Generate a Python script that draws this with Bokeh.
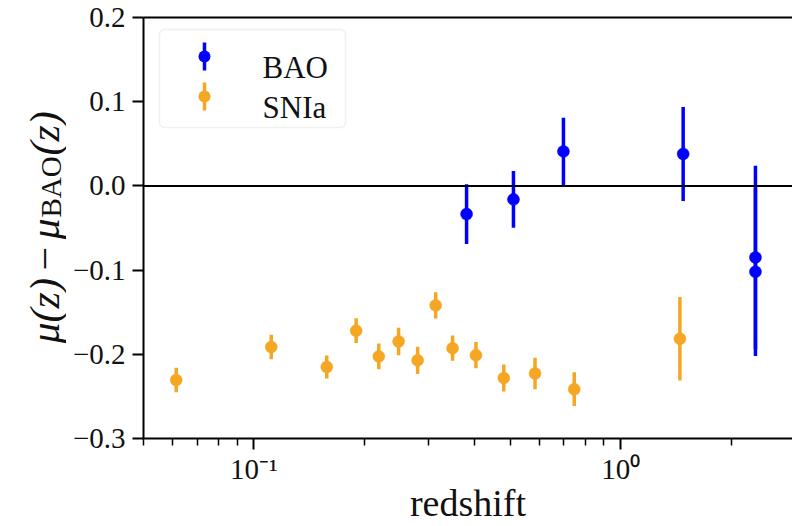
import numpy as np
from bokeh.plotting import figure
from bokeh.layouts import row
from bokeh.models import (ColumnDataSource, FixedTicker, CustomJSTickFormatter, Span, Label,
                          LinearAxis, Range1d, BoxAnnotation)
from bokeh.embed import file_html
from bokeh.resources import INLINE

# ---------------- data ----------------
bao_z = [0.38, 0.51, 0.698, 1.48, 2.33, 2.33]
bao_dmu = [-0.0335, -0.016, 0.041, 0.038, -0.085, -0.102]
bao_err = [0.0355, 0.0336, 0.040, 0.0558, 0.109, 0.100]

sn_z = [0.0614, 0.1115, 0.158, 0.190, 0.219, 0.248, 0.2795, 0.313, 0.348,
        0.403, 0.48, 0.584, 0.747, 1.45]
sn_dmu = [-0.2305, -0.1913, -0.215, -0.1719, -0.2025, -0.1847, -0.2072, -0.1419,
          -0.1928, -0.201, -0.2281, -0.2228, -0.2414, -0.1815]
sn_err = [0.0145, 0.0145, 0.0137, 0.0147, 0.0153, 0.0163, 0.0163, 0.0157, 0.015,
          0.0157, 0.016, 0.0187, 0.020, 0.0495]

x_major = [0.1, 1.0]
x_minor = [0.05, 0.06, 0.07, 0.08, 0.09, 0.2, 0.3, 0.4, 0.5, 0.6, 0.7, 0.8, 0.9, 2.0, 3.0]
y_ticks = [-0.3, -0.2, -0.1, 0.0, 0.1, 0.2]

BAO_COLOR = "#0000ff"
SN_COLOR = "#f5a623"
FONT = "Liberation Serif"
TXT = "#111111"

LAB_W = 66
H = 526

# ---------------- main figure ----------------
p = figure(width=792 - LAB_W, height=H, x_axis_type="log",
           x_range=Range1d(0.05, 2.94), y_range=Range1d(-0.3, 0.2),
           output_backend="svg", toolbar_location=None,
           min_border_left=143 - LAB_W, min_border_right=0, min_border_top=17,
           min_border_bottom=87)
p.grid.visible = False
p.outline_line_color = None
p.background_fill_color = "white"
p.border_fill_color = "white"

# x axis
xa = p.xaxis[0]
xa.ticker = FixedTicker(ticks=x_major, minor_ticks=x_minor)
xa.formatter = CustomJSTickFormatter(code="""
const e = Math.round(Math.log10(tick));
const sup = {"-": "\u207b", "0": "\u2070", "1": "\u00b9", "2": "\u00b2", "3": "\u00b3"};
return "10" + String(e).split("").map(c => sup[c]).join("");
""")
xa.major_label_text_font = FONT
xa.major_label_text_font_size = "29px"
xa.major_label_text_color = TXT
xa.major_label_standoff = 3
xa.major_tick_out = 11
xa.major_tick_in = 0
xa.minor_tick_out = 7
xa.minor_tick_in = 0
xa.axis_line_width = 2
xa.major_tick_line_width = 2
xa.minor_tick_line_width = 1.5
xa.axis_line_color = "black"
xa.major_tick_line_color = "black"
xa.minor_tick_line_color = "black"
xa.axis_label = "redshift"
xa.axis_label_text_font = FONT
xa.axis_label_text_font_size = "38px"
xa.axis_label_text_font_style = "normal"
xa.axis_label_text_color = TXT
xa.axis_label_standoff = -6

# y axis
ya = p.yaxis[0]
ya.ticker = FixedTicker(ticks=y_ticks, minor_ticks=[])
ya.formatter = CustomJSTickFormatter(code="""
return (tick < -1e-9 ? "\u2212" : "") + Math.abs(tick).toFixed(1);
""")
ya.major_label_text_font = FONT
ya.major_label_text_font_size = "29px"
ya.major_label_text_color = TXT
ya.major_label_standoff = 7
ya.major_tick_out = 11
ya.major_tick_in = 0
ya.minor_tick_out = 0
ya.axis_line_width = 2
ya.major_tick_line_width = 2
ya.axis_line_color = "black"
ya.major_tick_line_color = "black"

# top spine
top = LinearAxis(ticker=FixedTicker(ticks=[]), major_label_text_font_size="0px",
                 major_tick_out=0, major_tick_in=0, minor_tick_out=0, minor_tick_in=0,
                 major_label_standoff=0, axis_line_width=2, axis_line_color="black")
p.add_layout(top, "above")

# zero line
p.add_layout(Span(location=0, dimension="width", line_color="black", line_width=2))

# ---------------- data glyphs ----------------
bao_src = ColumnDataSource(dict(
    z=bao_z, y=bao_dmu,
    lo=[v - e for v, e in zip(bao_dmu, bao_err)],
    hi=[v + e for v, e in zip(bao_dmu, bao_err)]))
sn_src = ColumnDataSource(dict(
    z=sn_z, y=sn_dmu,
    lo=[v - e for v, e in zip(sn_dmu, sn_err)],
    hi=[v + e for v, e in zip(sn_dmu, sn_err)]))

p.segment("z", "lo", "z", "hi", source=bao_src, line_color=BAO_COLOR, line_width=3.5, line_cap="butt")
p.scatter("z", "y", source=bao_src, size=12, fill_color=BAO_COLOR, line_color=BAO_COLOR, line_width=0.5)
p.segment("z", "lo", "z", "hi", source=sn_src, line_color=SN_COLOR, line_width=3.5, line_cap="butt")
p.scatter("z", "y", source=sn_src, size=12, fill_color=SN_COLOR, line_color=SN_COLOR, line_width=0.5)

# ---------------- legend (manual, screen units relative to frame) ----------------
def sbox(l, r, b, t, **kw):
    return BoxAnnotation(left=l, right=r, bottom=b, top=t,
                         left_units="screen", right_units="screen",
                         bottom_units="screen", top_units="screen", **kw)

p.add_layout(sbox(16, 202, 311, 409, fill_color="white", fill_alpha=0.85,
                  line_color="#cccccc", line_width=1.5, border_radius=5))
for yc, col, name, base in [(382, BAO_COLOR, "BAO", 371), (342, SN_COLOR, "SNIa", 331)]:
    p.add_layout(sbox(59.25, 62.75, yc - 14, yc + 14, fill_color=col, fill_alpha=1,
                      line_color=None))
    p.add_layout(sbox(55, 67, yc - 6, yc + 6, fill_color=col, fill_alpha=1,
                      line_color=None, border_radius=6))
    p.add_layout(Label(x=119, y=base, x_units="screen", y_units="screen", text=name,
                       text_font=FONT, text_font_size="31px", text_color=TXT,
                       text_align="left", text_baseline="alphabetic"))

# ---------------- y-axis title (own narrow figure, so nothing is clipped) ----------------
lab = figure(width=LAB_W, height=H, x_range=Range1d(0, LAB_W), y_range=Range1d(0, H),
             output_backend="svg", toolbar_location=None,
             x_axis_location=None, y_axis_location=None,
             min_border=0, min_border_left=0, min_border_right=0,
             min_border_top=0, min_border_bottom=0)
lab.grid.visible = False
lab.outline_line_color = None
lab.background_fill_color = "white"
lab.border_fill_color = "white"

# (the row aligns this frame with the main frame, so y is measured from its bottom)
ylab = [("\u03bc(z)", 44, 95, "italic", "42px"),
        ("\u2212", 44, 168, "normal", "42px"),
        ("\u03bc", 44, 199, "italic", "42px"),
        ("BAO", 50, 221, "normal", "29px"),
        ("(z)", 44, 283, "italic", "42px")]
for t, xx, yy, st, fs in ylab:
    lab.add_layout(Label(x=xx, y=yy, x_units="screen", y_units="screen", text=t,
                         angle=90, angle_units="deg", text_font=FONT, text_font_style=st,
                         text_font_size=fs, text_color=TXT,
                         text_align="left", text_baseline="alphabetic"))

layout = row(lab, p)
open("out.html", "w").write(file_html(layout, INLINE))
